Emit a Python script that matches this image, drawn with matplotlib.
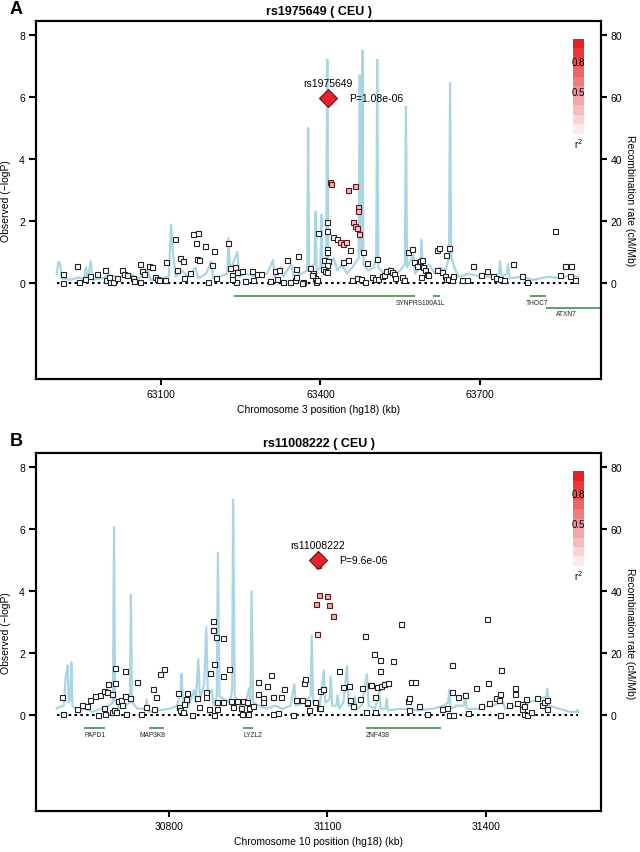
import matplotlib
matplotlib.use("Agg")
import matplotlib.pyplot as plt
from matplotlib.patches import Rectangle
import numpy as np

plt.rcParams['font.family'] = ['Liberation Sans', 'DejaVu Sans']

# ---------------- panel A : rs1975649 (chr 3) ----------------
a_title = "rs1975649 ( CEU )"
a_xlabel = "Chromosome 3 position (hg18) (kb)"
a_xticks = [63100, 63400, 63700]
a_xlim = (62865, 63928)
a_span = (62904, 63884)
a_lead = (63413.6, 5.967)
a_lead_name = "rs1975649"
a_lead_p = "P=1.08e-06"

a_pos = [62915, 62916, 62942, 62945, 62958, 62967, 62980, 62995, 62997, 63003, 63004, 63010,
         63018, 63027, 63031, 63036, 63048, 63050, 63061, 63064, 63061, 63068, 63078, 63084,
         63089, 63092, 63097, 63108, 63109, 63127, 63131, 63136, 63141, 63143, 63154, 63160,
         63166, 63170, 63168, 63172, 63183, 63189, 63197, 63200, 63204, 63226, 63230, 63234,
         63239, 63242, 63234, 63244, 63252, 63258, 63271, 63273, 63281, 63289, 63305, 63315,
         63323, 63319, 63329, 63338, 63343, 63352, 63355, 63357, 63354, 63367, 63380, 63387,
         63390, 63392, 63396, 63366, 63385, 63394,
         63412, 63413, 63424, 63432, 63456, 63412, 63413, 63407, 63414, 63412, 63404, 63409,
         63412, 63442, 63452,
         63459, 63468, 63476, 63484, 63481, 63487, 63507, 63498, 63503, 63509, 63515, 63520,
         63524, 63531, 63534, 63539, 63540, 63553, 63557, 63565, 63572, 63577, 63581, 63587,
         63592, 63593, 63597, 63600, 63603, 63590, 63619, 63628, 63634, 63636, 63620, 63624,
         63637, 63642, 63640, 63647, 63649, 63666, 63675, 63688, 63703, 63713, 63725, 63731,
         63738, 63745, 63763, 63780, 63788, 63841, 63850, 63860, 63871, 63869, 63879]
a_logp = [0.28, 0.00, 0.53, 0.02, 0.12, 0.22, 0.28, 0.42, 0.09, 0.18, 0.02, 0.02,
          0.15, 0.42, 0.30, 0.24, 0.16, 0.05, 0.62, 0.38, 0.02, 0.28, 0.55, 0.51,
          0.19, 0.13, 0.08, 0.10, 0.67, 1.41, 0.43, 0.81, 0.70, 0.17, 0.32, 1.57,
          1.29, 1.61, 0.77, 0.74, 1.19, 0.02, 0.59, 1.02, 0.17, 1.28, 0.49, 0.24,
          0.51, 0.02, 0.13, 0.34, 0.40, 0.06, 0.40, 0.09, 0.30, 0.28, 0.06, 0.40,
          0.43, 0.13, 0.02, 0.73, 0.04, 0.08, 0.45, 0.86, 0.18, 0.02, 0.48, 0.32,
          0.17, 0.02, 1.60, 0.00, 0.26, 0.08,
          1.96, 1.66, 1.49, 1.42, 1.07, 1.10, 0.99, 0.74, 0.70, 0.59, 0.45, 0.39,
          0.34, 0.67, 0.74,
          0.11, 0.16, 0.13, 0.02, 0.99, 0.63, 0.77, 0.19, 0.13, 0.13, 0.22, 0.26,
          0.37, 0.43, 0.34, 0.29, 0.16, 0.18, 0.10, 0.99, 1.10, 0.69, 0.53, 0.72,
          0.75, 0.50, 0.43, 0.29, 0.26, 0.18, 0.42, 0.34, 0.22, 0.13, 1.07, 1.14,
          0.90, 1.14, 0.13, 0.08, 0.21, 0.10, 0.08, 0.53, 0.26, 0.37, 0.22, 0.15,
          0.13, 0.08, 0.61, 0.22, 0.04, 1.69, 0.24, 0.54, 0.56, 0.22, 0.08]

a_ld_pos = [63418, 63420, 63452, 63466, 63471, 63471, 63462, 63465, 63468, 63473, 63437, 63442, 63449]
a_ld_logp = [3.25, 3.20, 3.01, 3.14, 2.44, 2.33, 1.96, 1.85, 1.76, 1.58, 1.33, 1.26, 1.33]
a_ld_r2 = [0.5, 0.5, 0.45, 0.45, 0.4, 0.4, 0.35, 0.35, 0.3, 0.3, 0.3, 0.3, 0.3]

a_rec_pos = [62904, 62907, 62910, 62913, 62930, 62945, 62955, 62959, 62962, 62968, 62971, 62990,
             63005, 63020, 63040, 63060, 63075, 63080, 63100, 63115, 63119, 63123, 63128, 63140,
             63150, 63165, 63170, 63185, 63195, 63198, 63210, 63225, 63227, 63230, 63244, 63247,
             63260, 63280, 63300, 63311, 63314, 63325, 63330, 63345, 63350, 63365, 63375, 63377,
             63379, 63389, 63391, 63393, 63400, 63402, 63404, 63411, 63413, 63415, 63425, 63432,
             63440, 63450, 63460, 63472, 63474, 63476, 63478, 63479, 63481, 63490, 63500, 63505,
             63507, 63509, 63520, 63530, 63540, 63550, 63559, 63561, 63563, 63575, 63578, 63588,
             63590, 63593, 63605, 63615, 63625, 63635, 63642, 63644, 63646, 63652, 63660, 63680,
             63700, 63720, 63736, 63738, 63741, 63751, 63753, 63756, 63780, 63800, 63830, 63850,
             63870, 63884]
a_rec_rate = [3.0, 6.8, 6.5, 1.5, 1.0, 1.8, 1.2, 5.0, 1.0, 7.0, 1.0, 1.5,
              2.5, 1.8, 3.0, 1.5, 4.5, 1.0, 1.5, 2.0, 18.8, 9.0, 2.0, 4.0,
              2.0, 5.0, 1.5, 3.0, 7.0, 1.5, 2.0, 3.0, 14.5, 4.0, 10.0, 2.0,
              3.0, 2.0, 3.0, 7.4, 2.0, 5.0, 2.0, 6.0, 2.0, 3.0, 4.0, 50.0,
              5.0, 6.0, 23.0, 4.0, 5.0, 22.0, 4.0, 5.0, 72.0, 6.0, 8.0, 4.0,
              6.0, 3.0, 5.0, 8.0, 67.0, 10.0, 12.0, 75.0, 6.0, 4.0, 5.0, 8.0,
              72.0, 5.0, 3.0, 5.0, 3.0, 4.0, 6.0, 57.0, 5.0, 9.0, 3.0, 5.0,
              14.0, 4.0, 6.0, 3.0, 5.0, 4.0, 8.0, 64.5, 9.0, 5.0, 2.0, 3.0,
              2.0, 2.0, 3.0, 7.0, 2.0, 3.0, 6.0, 1.5, 2.0, 1.0, 2.0, 1.5,
              2.5, 2.0]

a_gene_start = [63237, 63612, 63794, 63825]
a_gene_end = [63578, 63625, 63825, 63940]
a_gene_y = [-0.43, -0.43, -0.43, -0.80]
a_gene_label = ["SYNPRS100A1L", "THOC7", "ATXN7"]
a_label_x = [63589, 63807, 63862]
a_label_y = [-0.62, -0.62, -1.0]

# ---------------- panel B : rs11008222 (chr 10) ----------------
b_title = "rs11008222 ( CEU )"
b_xlabel = "Chromosome 10 position (hg18) (kb)"
b_xticks = [30800, 31100, 31400]
b_xlim = (30547, 31619)
b_span = (30586, 31576)
b_lead = (31082, 5.018)
b_lead_name = "rs11008222"
b_lead_p = "P=9.6e-06"

b_pos = [30597, 30599, 30624, 30634, 30643, 30649, 30659, 30668, 30676, 30683, 30682, 30691,
         30676, 30665, 30678, 30691, 30695, 30699, 30697, 30697, 30703, 30709, 30711, 30716,
         30715, 30725, 30718, 30738, 30746, 30756, 30768, 30771, 30775, 30782, 30790, 30817,
         30818, 30820, 30825, 30832, 30833, 30828, 30842, 30853, 30857, 30870, 30870, 30875,
         30878, 30885, 30882, 30885, 30891, 30890, 30901, 30902, 30913, 30902, 30917, 30921,
         30928, 30935, 30940, 30947, 30952, 30950, 30937, 30959, 30969, 30969, 30977, 30978,
         30985, 30992, 30996, 30997, 31006, 31011, 31018, 31034, 31040, 31051, 31056, 31057,
         31062, 31064, 31076, 31083, 31085, 31061, 31086, 31091, 30882, 30882, 30888,
         31122, 31130, 31140, 31143, 31149, 31161, 31165, 31171, 31173, 31180, 31182,
         31190, 31190, 31188, 31200, 31199, 31193, 31201, 31207, 31214, 31225, 31240, 31252,
         31255, 31258, 31266, 31254, 31274, 31288, 31317, 31326, 31331, 31338, 31336, 31337,
         31348, 31361, 31367, 31381, 31391, 31402, 31404, 31407, 31420, 31427, 31426, 31429,
         31427, 31445, 31455, 31456, 31459, 31469, 31470, 31472, 31476, 31472, 31478, 31486,
         31498, 31507, 31510, 31516, 31517]
b_logp = [0.58, 0.02, 0.20, 0.33, 0.28, 0.47, 0.60, 0.65, 0.79, 0.99, 0.74, 0.68,
          0.23, 0.01, 0.02, 0.09, 0.17, 0.09, 1.52, 1.04, 0.45, 0.48, 0.32, 0.60,
          1.41, 0.56, 0.02, 1.08, 0.02, 0.25, 0.85, 0.20, 0.59, 1.32, 1.49, 0.71,
          0.26, 0.15, 0.09, 0.52, 0.72, 0.36, 0.01, 0.55, 0.25, 0.74, 0.58, 0.20,
          1.35, 1.64, 2.75, 0.01, 0.20, 0.42, 2.48, 1.27, 1.47, 0.41, 0.44, 0.26,
          0.44, 0.24, 0.44, 0.42, 0.23, 0.02, 0.02, 0.29, 1.06, 0.69, 0.54, 0.42,
          0.95, 1.30, 0.58, 0.02, 0.06, 0.58, 0.84, 0.00, 0.47, 0.47, 1.03, 1.17,
          0.39, 0.15, 0.42, 0.22, 0.76, 0.42, 0.22, 0.85, 3.05, 2.75, 2.52,
          1.41, 0.90, 0.95, 0.47, 0.29, 0.50, 0.87, 2.55, 0.09, 0.98, 0.98,
          0.58, 0.09, 1.98, 1.78, 1.42, 0.90, 0.95, 1.01, 1.04, 1.74, 2.95, 0.44,
          0.56, 1.08, 1.06, 0.15, 0.29, 0.02, 0.18, 0.22, 0.01, 0.01, 0.74, 1.60,
          0.58, 0.63, 0.07, 0.87, 0.29, 3.11, 1.04, 0.39, 0.54, 0.67, 0.47, 1.44,
          0.01, 0.33, 0.88, 0.68, 0.39, 0.36, 0.20, 0.29, 0.50, 0.04, 0.01, 0.09,
          0.54, 0.33, 0.42, 0.47, 0.20]

b_ld_pos = [31082, 31083, 31100, 31079, 31102, 31111, 31080]
b_ld_logp = [4.83, 3.88, 3.83, 3.59, 3.56, 3.20, 2.60]
b_ld_r2 = [0.8, 0.5, 0.5, 0.5, 0.5, 0.45, 0.25]

b_rec_pos = [30586, 30590, 30600, 30603, 30605, 30607, 30609, 30612, 30614, 30616, 30625, 30640,
             30655, 30670, 30685, 30693, 30695, 30697, 30705, 30715, 30725, 30727, 30729, 30740,
             30755, 30757, 30760, 30780, 30800, 30815, 30821, 30823, 30826, 30833, 30836, 30847,
             30850, 30855, 30858, 30866, 30870, 30873, 30880, 30884, 30890, 30892, 30895, 30905,
             30915, 30919, 30921, 30924, 30935, 30945, 30951, 30954, 30956, 30959, 30970, 30985,
             31000, 31015, 31030, 31037, 31040, 31055, 31068, 31070, 31073, 31085, 31093, 31096,
             31104, 31106, 31109, 31117, 31119, 31122, 31130, 31137, 31140, 31150, 31152, 31155,
             31165, 31175, 31178, 31190, 31198, 31201, 31210, 31212, 31215, 31240, 31270, 31300,
             31320, 31329, 31331, 31334, 31345, 31359, 31361, 31364, 31385, 31410, 31433, 31437,
             31460, 31480, 31500, 31515, 31517, 31520, 31540, 31560, 31572, 31574, 31576]
b_rec_rate = [2.0, 2.5, 3.0, 12.0, 14.0, 16.0, 4.0, 5.0, 17.0, 3.0, 1.5, 2.0,
              1.0, 2.0, 3.0, 4.0, 60.6, 5.0, 2.0, 3.0, 4.0, 38.8, 4.0, 2.0,
              2.0, 5.0, 1.0, 1.5, 2.0, 3.0, 8.0, 13.3, 4.0, 6.0, 3.0, 8.0,
              4.0, 18.0, 5.0, 10.0, 28.4, 6.0, 8.0, 3.0, 6.0, 52.3, 6.0, 5.0,
              4.0, 8.0, 69.5, 6.0, 3.0, 4.0, 8.6, 5.0, 40.0, 4.0, 3.0, 2.0,
              3.0, 2.0, 3.0, 10.0, 3.0, 4.0, 6.0, 25.7, 4.0, 3.0, 14.4, 4.0,
              5.0, 12.3, 3.0, 3.0, 6.3, 2.0, 4.0, 15.8, 3.0, 3.0, 6.0, 2.0,
              3.0, 13.1, 3.0, 2.0, 7.5, 2.0, 2.0, 5.3, 1.5, 2.0, 1.5, 2.0,
              3.0, 4.0, 8.2, 2.0, 3.0, 3.0, 6.9, 2.0, 2.0, 3.0, 4.2, 2.0,
              3.0, 4.0, 5.0, 6.0, 8.5, 3.0, 2.0, 1.0, 1.0, 1.7, 1.0]

b_gene_start = [30638, 30762, 30940, 31174]
b_gene_end = [30678, 30790, 30959, 31315]
b_gene_y = [-0.42, -0.42, -0.42, -0.42]
b_gene_label = ["PAPD1", "MAP3K8", "LYZL2", "ZNF438"]
b_label_x = [30658, 30767, 30958, 31195]
b_label_y = [-0.64, -0.64, -0.64, -0.64]

# r^2 legend
legend_r2 = [0.1, 0.2, 0.3, 0.4, 0.5, 0.6, 0.7, 0.8, 0.9, 1.0]

RED = np.array([0.91, 0.13, 0.15])
REC_COLOR = "#a9d6e5"
GENE_COLOR = "#3f8f55"


def blend(r2):
    return tuple(1 - r2 * (1 - RED))


def draw_panel(ax, letter, title, xlabel, xticks, xlim, span, lead, lead_name, lead_p,
               pos, logp, ld_pos, ld_logp, ld_r2, rec_pos, rec_rate,
               g_start, g_end, g_y, g_label, l_x, l_y):
    ax2 = ax.twinx()
    ax2.plot(rec_pos, rec_rate, color=REC_COLOR, lw=1.6, zorder=1)
    ax2.set_ylim(-31, 84.5)
    ax2.set_yticks([0, 20, 40, 60, 80])
    ax2.set_ylabel("Recombination rate (cM/Mb)", rotation=270, labelpad=9, fontsize=7.5)
    ax.set_zorder(ax2.get_zorder() + 1)
    ax.patch.set_visible(False)

    ax.plot(span, [0, 0], color='black', lw=1.5, ls=(0, (1.2, 1.6)), zorder=2)
    ax.plot(pos, logp, 's', ms=3.6, mfc='white', mec='#222222', mew=0.8, zorder=3)
    for x, y, r in zip(ld_pos, ld_logp, ld_r2):
        ax.plot(x, y, 's', ms=3.6, mfc=blend(r * 0.8), mec='#5a1a1a', mew=0.8, zorder=4)
    ax.plot(lead[0], lead[1], 'D', ms=9, mfc='#e8222a', mec='#6a0f10', mew=0.8, zorder=5)
    ax.text(lead[0], lead[1] + 0.32, lead_name, ha='center', va='bottom', fontsize=7.5)
    ax.text(lead[0] + (xlim[1] - xlim[0]) * 0.038, lead[1], lead_p, ha='left', va='center', fontsize=7.5)

    for s, e, y in zip(g_start, g_end, g_y):
        ax.plot([s, e], [y, y], color=GENE_COLOR, lw=1.2, solid_capstyle='butt', zorder=2)
    for lab, x, y in zip(g_label, l_x, l_y):
        ax.text(x, y, lab, ha='center', va='center', fontsize=4.8, color='#222222')

    # r^2 colour key
    n = len(legend_r2)
    top, bottom = 0.95, 0.685
    h = (top - bottom) / n
    for i, r in enumerate(legend_r2):
        ax.add_patch(Rectangle((0.951, bottom + i * h), 0.019, h, transform=ax.transAxes,
                               facecolor=blend(r), edgecolor='none', zorder=6))
    ax.text(0.9605, 0.885, "0.8", transform=ax.transAxes, ha='center', va='center', fontsize=7, zorder=7)
    ax.text(0.9605, 0.801, "0.5", transform=ax.transAxes, ha='center', va='center', fontsize=7, zorder=7)
    ax.text(0.9605, 0.66, "r$^2$", transform=ax.transAxes, ha='center', va='center', fontsize=7, zorder=7)

    ax.set_xlim(xlim)
    ax2.set_xlim(xlim)
    ax.set_ylim(-3.1, 8.45)
    ax.set_yticks([0, 2, 4, 6, 8])
    ax.set_xticks(xticks)
    ax.set_xticklabels([str(t) for t in xticks])
    ax.set_ylabel("Observed (\u2212logP)", fontsize=7.5, labelpad=6)
    ax.set_xlabel(xlabel, fontsize=7.5, labelpad=4)
    ax.set_title(title, fontsize=9, fontweight='bold', pad=5)
    ax.text(-0.047, 1.035, letter, transform=ax.transAxes, fontsize=13, fontweight='bold',
            ha='left', va='center')

    for a in (ax, ax2):
        for sp in a.spines.values():
            sp.set_linewidth(1.5)
        a.tick_params(direction='out', length=4, width=1.5, labelsize=7.5, pad=3)
    ax.tick_params(axis='y', length=5)


fig = plt.figure(figsize=(6.4, 8.53), dpi=100)
ax_a = fig.add_axes([0.0563, 0.5545, 0.8828, 0.4197])
ax_b = fig.add_axes([0.0563, 0.0481, 0.8828, 0.4193])

draw_panel(ax_a, "A", a_title, a_xlabel, a_xticks, a_xlim, a_span, a_lead, a_lead_name, a_lead_p,
           a_pos, a_logp, a_ld_pos, a_ld_logp, a_ld_r2, a_rec_pos, a_rec_rate,
           a_gene_start, a_gene_end, a_gene_y, a_gene_label, a_label_x, a_label_y)
draw_panel(ax_b, "B", b_title, b_xlabel, b_xticks, b_xlim, b_span, b_lead, b_lead_name, b_lead_p,
           b_pos, b_logp, b_ld_pos, b_ld_logp, b_ld_r2, b_rec_pos, b_rec_rate,
           b_gene_start, b_gene_end, b_gene_y, b_gene_label, b_label_x, b_label_y)

fig.savefig("out.png", dpi=100)
